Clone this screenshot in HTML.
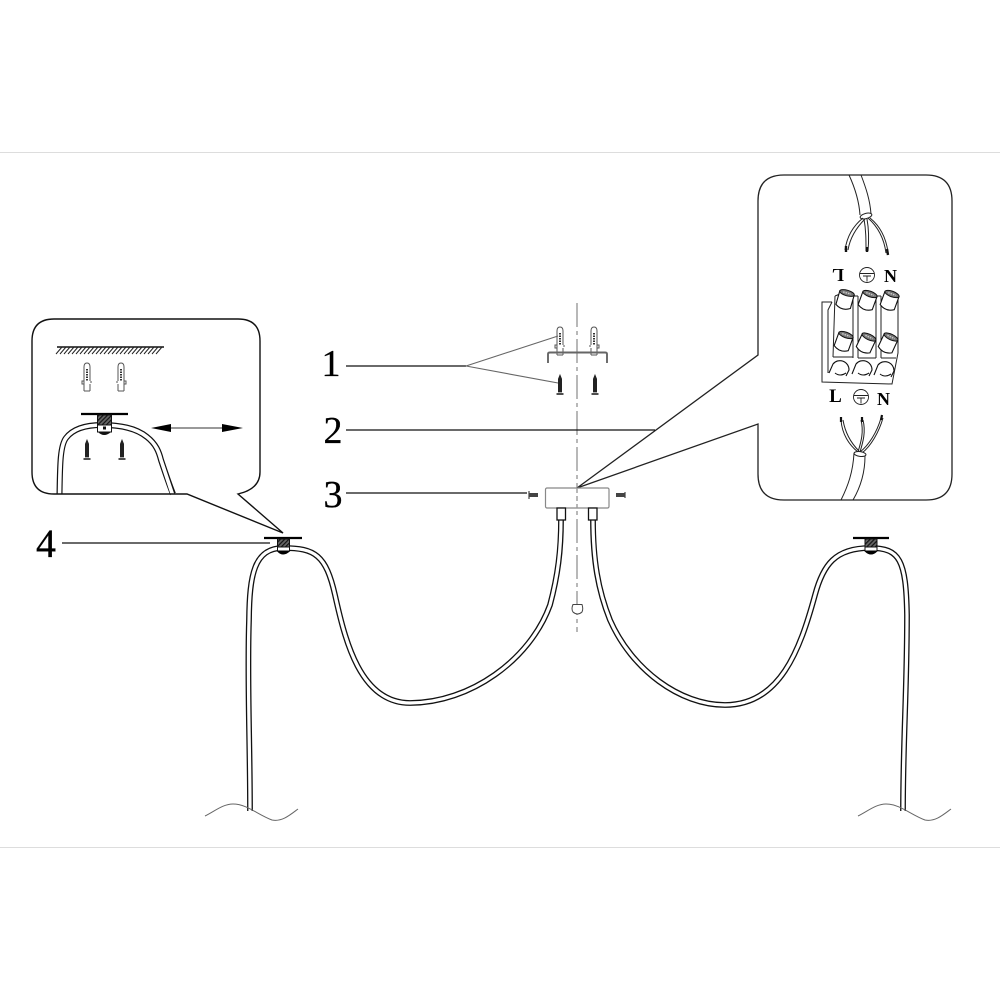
<!DOCTYPE html>
<html>
<head>
<meta charset="utf-8">
<style>
html,body{margin:0;padding:0;background:#fff;}
svg{display:block;}
text{font-family:"Liberation Serif",serif;fill:#000;}
</style>
</head>
<body>
<svg width="1000" height="1000" viewBox="0 0 1000 1000" xmlns="http://www.w3.org/2000/svg">
<defs>
  <pattern id="h" width="3" height="3" patternUnits="userSpaceOnUse" patternTransform="rotate(45)">
    <rect width="3" height="3" fill="#666"/><rect width="1.2" height="3" fill="#111"/>
  </pattern>
  <g id="anchor" fill="none" stroke="#555" stroke-width="1">
    <path d="M-3,17 V3 Q-3,-1 0,-1 Q3,-1 3,3 V17 M-3,27 V20 M3,27 V20 M-3,27 H3"/>
    <path d="M-5,17 H-3 V20 H-5 Z M3,18 H5"/>
    <path d="M0,5 V17" stroke-dasharray="1.5 1" stroke="#333" stroke-width="2"/>
  </g>
  <g id="screw" fill="#222" stroke="#222" stroke-width="0.8">
    <path d="M0,0 L1.6,4 V17 H-1.6 V4 Z"/>
    <path d="M-3.5,19 H3.5" stroke-width="1.6"/>
  </g>
  <g id="cyl">
    <path d="M-7.5,0 V14 Q0,19 7.5,14 V0 Z" fill="#fff" stroke="#111" stroke-width="1.1"/>
    <ellipse cx="0" cy="0" rx="7.5" ry="2.8" fill="#777" stroke="#111" stroke-width="1"/>
    <path d="M-4,0 H4" stroke="#ccc" stroke-width="1.4" stroke-dasharray="1.5 1"/>
  </g>
  <g id="earth" fill="none" stroke="#222" stroke-width="0.9">
    <circle r="7.5"/>
    <path d="M-7.5,-1.5 H7.5 M-4,1 H4 M0,1 V6.5"/>
  </g>
</defs>

<rect width="1000" height="1000" fill="#fff"/>
<path d="M0,152.5 H1000 M0,847.5 H1000" stroke="#ddd" stroke-width="1"/>

<!-- center line -->
<path d="M577,303 V632" stroke="#999" stroke-width="1.4" stroke-dasharray="24 4 4 4" fill="none"/>

<!-- left inset: cable under panel outline -->
<path d="M59.5,494 C60,466 60,446 66,438 C72,430 84,425 102,425 C120,425 136,428 147,437 C156,444 159,452 161,460 C165,472 169,484 173,494" fill="none" stroke="#111" stroke-width="6"/>
<path d="M59.5,496 C60,466 60,446 66,438 C72,430 84,425 102,425 C120,425 136,428 147,437 C156,444 159,452 161,460 C165,472 169,484 173,496" fill="none" stroke="#fff" stroke-width="3.6"/>
<path d="M187,494 H54 Q32,494 32,472 V341 Q32,319 54,319 H238 Q260,319 260,341 V472 Q260,489 238,494 L283,533 Z" fill="none" stroke="#111" stroke-width="1.4"/>
<path d="M57,347 H164" stroke="#111" stroke-width="1.5"/>
<path d="M56,354 L62,347 M60,354 L66,347 M64,354 L70,347 M68,354 L74,347 M72,354 L78,347 M76,354 L82,347 M80,354 L86,347 M84,354 L90,347 M88,354 L94,347 M92,354 L98,347 M96,354 L102,347 M100,354 L106,347 M104,354 L110,347 M108,354 L114,347 M112,354 L118,347 M116,354 L122,347 M120,354 L126,347 M124,354 L130,347 M128,354 L134,347 M132,354 L138,347 M136,354 L142,347 M140,354 L146,347 M144,354 L150,347 M148,354 L154,347 M152,354 L158,347 M156,354 L162,347" stroke="#222" stroke-width="1"/>
<use href="#anchor" x="87" y="364"/>
<use href="#anchor" transform="translate(121,364) scale(-1,1)"/>
<path d="M81,414 H128" stroke="#000" stroke-width="2.2"/>
<rect x="97.5" y="415" width="14" height="10" fill="url(#h)" stroke="#111"/>
<rect x="97.5" y="425" width="14" height="7" fill="#fff" stroke="#111"/>
<rect x="103" y="426.5" width="3" height="3" fill="#111"/>
<path d="M98,432 Q104,438 111,432 Z" fill="#111"/>
<use href="#screw" x="87" y="440"/>
<use href="#screw" x="122" y="440"/>
<path d="M160,428 H234" stroke="#333" stroke-width="1"/>
<path d="M151,428 L171,424 V432 Z M243,428 L222,424 V432 Z" fill="#000"/>

<!-- right inset panel -->
<path d="M577,488 L758,355 V201 Q758,175 784,175 H926 Q952,175 952,201 V474 Q952,500 926,500 H784 Q758,500 758,474 V424 L577,488" fill="none" stroke="#222" stroke-width="1.3"/>

<!-- top cable -->
<g fill="none" stroke="#222" stroke-width="1">
  <path d="M849,175 C855,188 859,200 860,215 M861,175 C866,188 870,200 871,214"/>
  <ellipse cx="866" cy="216" rx="6" ry="2.6" transform="rotate(-15 866 216)" fill="#fff"/>
  <path d="M863,218 C853,226 847,236 845,250 M865,219 C856,228 850,238 848,250"/>
  <path d="M864,219 C866,230 866,240 866,251 M867,219 C869,230 869,240 868,251"/>
  <path d="M868,218 C877,226 884,238 886,253 M870,218 C880,226 886,238 888,252"/>
</g>
<path d="M846,246 V252 M867,247 V252 M887,249 L888,255" stroke="#111" stroke-width="2.4"/>

<!-- terminal labels top -->
<text x="838" y="282" font-size="18" font-weight="bold" text-anchor="middle" transform="rotate(180 838 275.5)">L</text>
<use href="#earth" x="867" y="275"/>
<text x="890.5" y="282" font-size="18" font-weight="bold" text-anchor="middle">N</text>

<!-- terminal block -->
<g fill="none" stroke="#222" stroke-width="1">
  <path d="M832,302 H822 V382 L892,384 L898,353 V296"/>
  <path d="M832,302 L828,310 V373"/>
  <path d="M835,296 L833,357 M853,296 V358 M858,296 V358 M876,296 V358 M881,296 V358"/>
  <path d="M835,296 L840,294 M853,296 H858 M876,296 H881"/>
  <path d="M833,357 H853 M858,358 H876 M881,358 H896"/>
</g>
<use href="#cyl" transform="translate(847,293) rotate(16)"/>
<use href="#cyl" transform="translate(870,294) rotate(20)"/>
<use href="#cyl" transform="translate(892,294) rotate(20)"/>
<use href="#cyl" transform="translate(846,335) rotate(20)"/>
<use href="#cyl" transform="translate(869,337) rotate(25)"/>
<use href="#cyl" transform="translate(891,337) rotate(25)"/>
<g fill="none" stroke="#111" stroke-width="1.1">
  <path d="M829,373 L833,364 A9,9 0 0 1 849,370 L846,376"/>
  <path d="M852,374 L856,364 A9,9 0 0 1 872,370 L869,376"/>
  <path d="M874,375 L878,365 A9,9 0 0 1 894,371 L891,377"/>
  <path d="M835,373 Q840,377 846,373 M858,373 Q863,377 869,373 M880,374 Q885,378 891,374"/>
</g>

<!-- terminal labels bottom -->
<text x="835.5" y="402" font-size="19" font-weight="bold" text-anchor="middle">L</text>
<use href="#earth" x="861" y="397"/>
<text x="883.5" y="405" font-size="18" font-weight="bold" text-anchor="middle">N</text>

<!-- bottom cable -->
<g fill="none" stroke="#222" stroke-width="1">
  <path d="M841,420 C842,434 849,445 858,452 M843,420 C845,432 851,443 859,451"/>
  <path d="M861,420 C864,432 861,442 858,452 M863,420 C866,432 863,442 860,452"/>
  <path d="M881,418 C877,432 869,445 860,452 M883,418 C879,432 871,446 862,453"/>
  <ellipse cx="860" cy="454" rx="6" ry="2.4" transform="rotate(8 860 454)" fill="#fff"/>
  <path d="M854,453 C853,472 848,486 841,500 M865,456 C865,473 860,488 853,500"/>
</g>
<path d="M841,417 V422 M862,417 V422 M882,415 L881,420" stroke="#111" stroke-width="2.2"/>

<!-- center fixings -->
<use href="#anchor" x="560" y="328"/>
<use href="#anchor" transform="translate(594,328) scale(-1,1)"/>
<path d="M548,363 V354 Q548,352.5 550,352.5 H605 Q607,352.5 607,354 V363" fill="none" stroke="#666" stroke-width="1.9"/>
<use href="#screw" x="560" y="375"/>
<use href="#screw" x="595" y="375"/>

<!-- canopy -->
<rect x="545.5" y="488" width="63.5" height="20" rx="1.5" fill="#fff" stroke="#888" stroke-width="1.2"/>
<path d="M577,488 V508" stroke="#999" stroke-width="1.4" stroke-dasharray="5 3"/>
<path d="M529,495 H538" stroke="#444" stroke-width="4"/>
<path d="M616,495 H625" stroke="#444" stroke-width="4"/>
<path d="M529,491 V499" stroke="#444" stroke-width="1.2"/>
<path d="M625,492 V498" stroke="#444" stroke-width="1.2"/>
<path d="M573,604.5 H582 Q583.5,609 582,612 Q577.5,616 573,612 Q571,609 573,604.5 Z" fill="#fff" stroke="#444" stroke-width="1"/>

<!-- leader lines -->
<g fill="none">
  <path d="M346,366 H466" stroke="#111" stroke-width="1.2"/>
  <path d="M558,336 L466,366 L558,383" stroke="#666" stroke-width="1.1"/>
  <path d="M346,430 H655" stroke="#111" stroke-width="1.2"/>
  <path d="M346,493 H527" stroke="#111" stroke-width="1.2"/>
  <path d="M62,543 H270" stroke="#111" stroke-width="1.2"/>
</g>

<!-- numbers -->
<text x="331" y="376" font-size="38" text-anchor="middle" stroke="#000" stroke-width="0.3">1</text>
<text x="333" y="443" font-size="38" text-anchor="middle" stroke="#000" stroke-width="0.3">2</text>
<text x="333" y="507" font-size="38" text-anchor="middle" stroke="#000" stroke-width="0.3">3</text>
<text x="46" y="557" font-size="40" text-anchor="middle" stroke="#000" stroke-width="0.3">4</text>

<!-- left cable -->
<path d="M250,811 C250,740 247,680 249,620 C249.500,575 254,548 283,548 C315,548 326,555 335,595 C345,640 360,703 410,703 C470,703 530,660 550,605 C558,575 561,550 561,520" fill="none" stroke="#111" stroke-width="5.8"/>
<path d="M250,813 C250,740 247,680 249,620 C249.500,575 254,548 283,548 C315,548 326,555 335,595 C345,640 360,703 410,703 C470,703 530,660 550,605 C558,575 561,550 561,518" fill="none" stroke="#fff" stroke-width="3.2"/>
<!-- right cable -->
<path d="M593,520 C593,560 598,590 610,620 C632,670 680,705 725,705 C780,705 800,650 815,595 C823,565 835,548 870,548 C900,548 906,560 907,615 C907,690 903,740 903,811" fill="none" stroke="#111" stroke-width="5.8"/>
<path d="M593,518 C593,560 598,590 610,620 C632,670 680,705 725,705 C780,705 800,650 815,595 C823,565 835,548 870,548 C900,548 906,560 907,615 C907,690 903,740 903,813" fill="none" stroke="#fff" stroke-width="3.2"/>

<!-- ground waves -->
<path d="M205,816 C215,811 223,804 233,804 C247,804 258,815 272,820 C282,822 290,815 298,809" fill="none" stroke="#666" stroke-width="1"/>
<path d="M858,816 C868,811 876,804 886,804 C900,804 911,815 925,820 C935,822 943,815 951,809" fill="none" stroke="#666" stroke-width="1"/>

<!-- connectors on canopy -->
<rect x="557" y="508" width="8.5" height="12" fill="#fff" stroke="#111" stroke-width="1.3"/>
<rect x="588.5" y="508" width="8.5" height="12" fill="#fff" stroke="#111" stroke-width="1.3"/>

<!-- left rose -->
<path d="M264,538 H302" stroke="#000" stroke-width="2.2"/>
<rect x="277.5" y="539" width="12" height="8" fill="url(#h)" stroke="#111"/>
<rect x="277.5" y="547" width="12" height="4" fill="#fff" stroke="#111"/>
<path d="M277.5,551 Q283,557 289.5,551 Z" fill="#000" stroke="#000"/>

<!-- right rose -->
<path d="M853,538 H889" stroke="#000" stroke-width="2.2"/>
<rect x="865" y="539" width="12" height="8" fill="url(#h)" stroke="#111"/>
<rect x="865" y="547" width="12" height="4" fill="#fff" stroke="#111"/>
<path d="M865,551 Q871,557 877,551 Z" fill="#000" stroke="#000"/>
</svg>
</body>
</html>
